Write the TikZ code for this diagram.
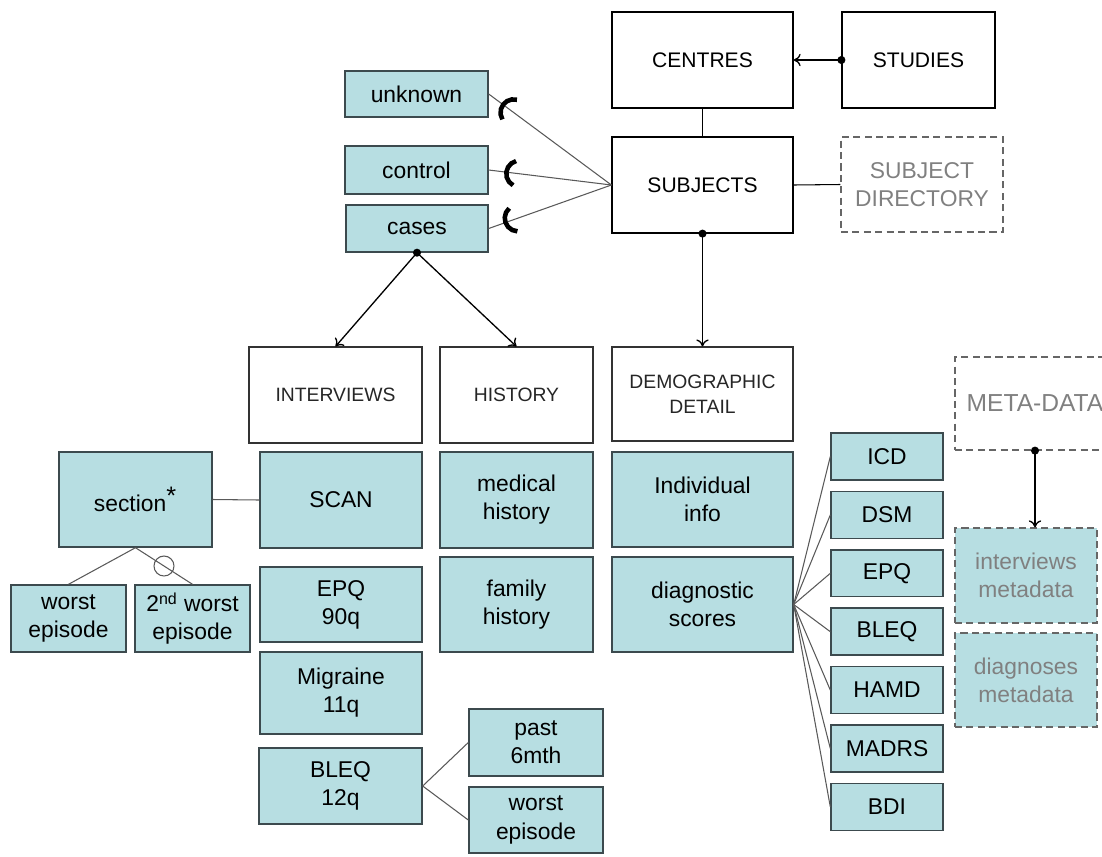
\documentclass[tikz,border=0pt]{standalone}
\usepackage{fontspec}
\setmainfont{Liberation Sans}
\usetikzlibrary{arrows.meta, positioning, decorations.markings}
\definecolor{boxteal}{RGB}{183,222,226}
\definecolor{boxedge}{RGB}{60,74,78}
\definecolor{metagray}{RGB}{128,128,128}
\tikzstyle{entity} = [rectangle, draw=black, line width=0.7pt, align=center, font=\fontsize{12}{15}\selectfont]
\tikzstyle{header} = [rectangle, draw=black!80, line width=0.6pt, align=center, text=black!85, font=\fontsize{11}{14}\selectfont]
\tikzstyle{leaf} = [rectangle, draw=boxedge, fill=boxteal, line width=0.8pt, align=center, font=\fontsize{13}{16}\selectfont]
\tikzstyle{score} = [leaf, minimum width=2.24cm, minimum height=0.94cm]
\tikzstyle{meta} = [rectangle, draw=black!60, dash pattern=on 4pt off 2.5pt, line width=0.7pt, align=center, text=metagray, font=\fontsize{13}{16}\selectfont]
\tikzstyle{link} = [draw=black!65, line width=0.6pt]
\tikzstyle{arrow} = [line width=0.75pt, -{To[length=4pt,width=7pt]}]
\tikzstyle{optional} = [link, postaction={decorate, decoration={markings, mark=at position -0.62cm with {\draw[black, line width=2.6pt] (-68:7.5pt) arc (-68:68:7.5pt);}}}]

\begin{document}
\begin{tikzpicture}[x=0.02cm, y=-0.02cm]
    \useasboundingbox (0,0) rectangle (1102,856);

    % subjects and studies
    \node (centres) [entity, minimum width=3.62cm, minimum height=1.92cm] at (702.5,60) {CENTRES};
    \node (studies) [entity, minimum width=3.06cm, minimum height=1.92cm] at (918.5,60) {STUDIES};
    \node (subjects) [entity, minimum width=3.62cm, minimum height=1.92cm] at (702.5,185) {SUBJECTS};
    \node (subjdir) [meta, minimum width=3.24cm, minimum height=1.9cm] at (922,184.5) {SUBJECT\\DIRECTORY};

    \node (unknown) [leaf, minimum width=2.86cm, minimum height=0.92cm] at (416.5,94) {unknown};
    \node (control) [leaf, minimum width=2.86cm, minimum height=0.96cm] at (416.5,170) {control};
    \node (cases) [leaf, minimum width=2.84cm, minimum height=0.94cm] at (417,228.5) {cases};

    % groups
    \node (interviews) [header, minimum width=3.46cm, minimum height=1.92cm] at (335.5,395) {INTERVIEWS};
    \node (history) [header, minimum width=3.06cm, minimum height=1.92cm] at (516.5,395) {HISTORY};
    \node (demographic) [header, minimum width=3.62cm, minimum height=1.88cm] at (702.5,394) {DEMOGRAPHIC\\DETAIL};

    % interviews
    \node (section) [leaf, minimum width=3.06cm, minimum height=1.9cm] at (135.5,499.5) {section\textsuperscript{\Large *}};
    \node (worst_a) [leaf, minimum width=2.3cm, minimum height=1.34cm] at (68.5,618.5) {worst\\episode};
    \node (worst_b) [leaf, minimum width=2.3cm, minimum height=1.34cm] at (192.5,618.5) {2\textsuperscript{nd} worst\\episode};
    \node (scan) [leaf, minimum width=3.24cm, minimum height=1.92cm] at (341,500) {SCAN};
    \node (epq) [leaf, minimum width=3.24cm, minimum height=1.5cm] at (341,604.5) {EPQ\\90q};
    \node (migraine) [leaf, minimum width=3.24cm, minimum height=1.64cm] at (341,693) {Migraine\\11q};
    \node (bleq) [leaf, minimum width=3.26cm, minimum height=1.52cm] at (340.5,786) {BLEQ\\12q};
    \node (past) [leaf, minimum width=2.68cm, minimum height=1.34cm] at (536,742.5) {past\\6mth};
    \node (worst_c) [leaf, minimum width=2.68cm, minimum height=1.32cm] at (536,820) {worst\\episode};

    % history
    \node (medical) [leaf, minimum width=3.06cm, minimum height=1.92cm] at (516.5,500) {medical\\history};
    \node (family) [leaf, minimum width=3.06cm, minimum height=1.9cm] at (516.5,604.5) {family\\history};

    % demographic detail
    \node (indiv) [leaf, minimum width=3.62cm, minimum height=1.9cm] at (702.5,499.5) {Individual\\info};
    \node (diag) [leaf, minimum width=3.62cm, minimum height=1.9cm] at (702.5,604.5) {diagnostic\\scores};
    \node (icd) [score] at (887,456.5) {ICD};
    \node (dsm) [score, below=0.2cm of icd] {DSM};
    \node (epq_score) [score, below=0.2cm of dsm] {EPQ};
    \node (bleq_score) [score, below=0.2cm of epq_score] {BLEQ};
    \node (hamd) [score, below=0.2cm of bleq_score] {HAMD};
    \node (madrs) [score, below=0.2cm of hamd] {MADRS};
    \node (bdi) [score, below=0.2cm of madrs] {BDI};

    % meta-data
    \node (metadata) [meta, font=\fontsize{14}{17}\selectfont, minimum width=3.2cm, minimum height=1.86cm] at (1035,403.5) {META-DATA};
    \node (intmeta) [meta, fill=boxteal, minimum width=2.84cm, minimum height=1.9cm] at (1026,575.5) {interviews\\metadata};
    \node (dgmeta) [meta, fill=boxteal, minimum width=2.84cm, minimum height=1.88cm] at (1026,680) {diagnoses\\metadata};

    \draw [arrow] (studies.west) -- (centres.east);
    \fill (studies.west) circle (2.3pt);
    \draw [link, draw=black] (centres.south) -- (subjects.north);
    \draw [link, draw=black] (subjects.east) -- (subjdir.west);
    \draw [optional] (subjects.west) -- (unknown.east);
    \draw [optional] (subjects.west) -- (control.east);
    \draw [optional] (subjects.west) -- (cases.east);

    \draw [arrow] (cases.south) -- (interviews.north);
    \draw [arrow] (cases.south) -- (history.north);
    \fill (cases.south) circle (2.3pt);
    \draw [arrow] (subjects.south) -- (demographic.north);
    \fill (subjects.south) circle (2.3pt);

    \draw [link] (section.east) -- (scan.west);
    \draw [link] (section.south) -- (worst_a.north);
    \draw [link] (section.south) -- node [draw=black!65, line width=0.6pt, circle, inner sep=0pt, minimum size=0.4cm] (either) {} (worst_b.north);
    \draw [link] (bleq.east) -- (past.west);
    \draw [link] (bleq.east) -- (worst_c.west);

    \foreach \s in {icd, dsm, epq_score, bleq_score, hamd, madrs, bdi}
        \draw [link] (diag.east) -- (\s.west);

    \draw [arrow] (metadata.south) -- (metadata.south |- intmeta.north);
    \fill (metadata.south) circle (2.3pt);
\end{tikzpicture}
\end{document}
